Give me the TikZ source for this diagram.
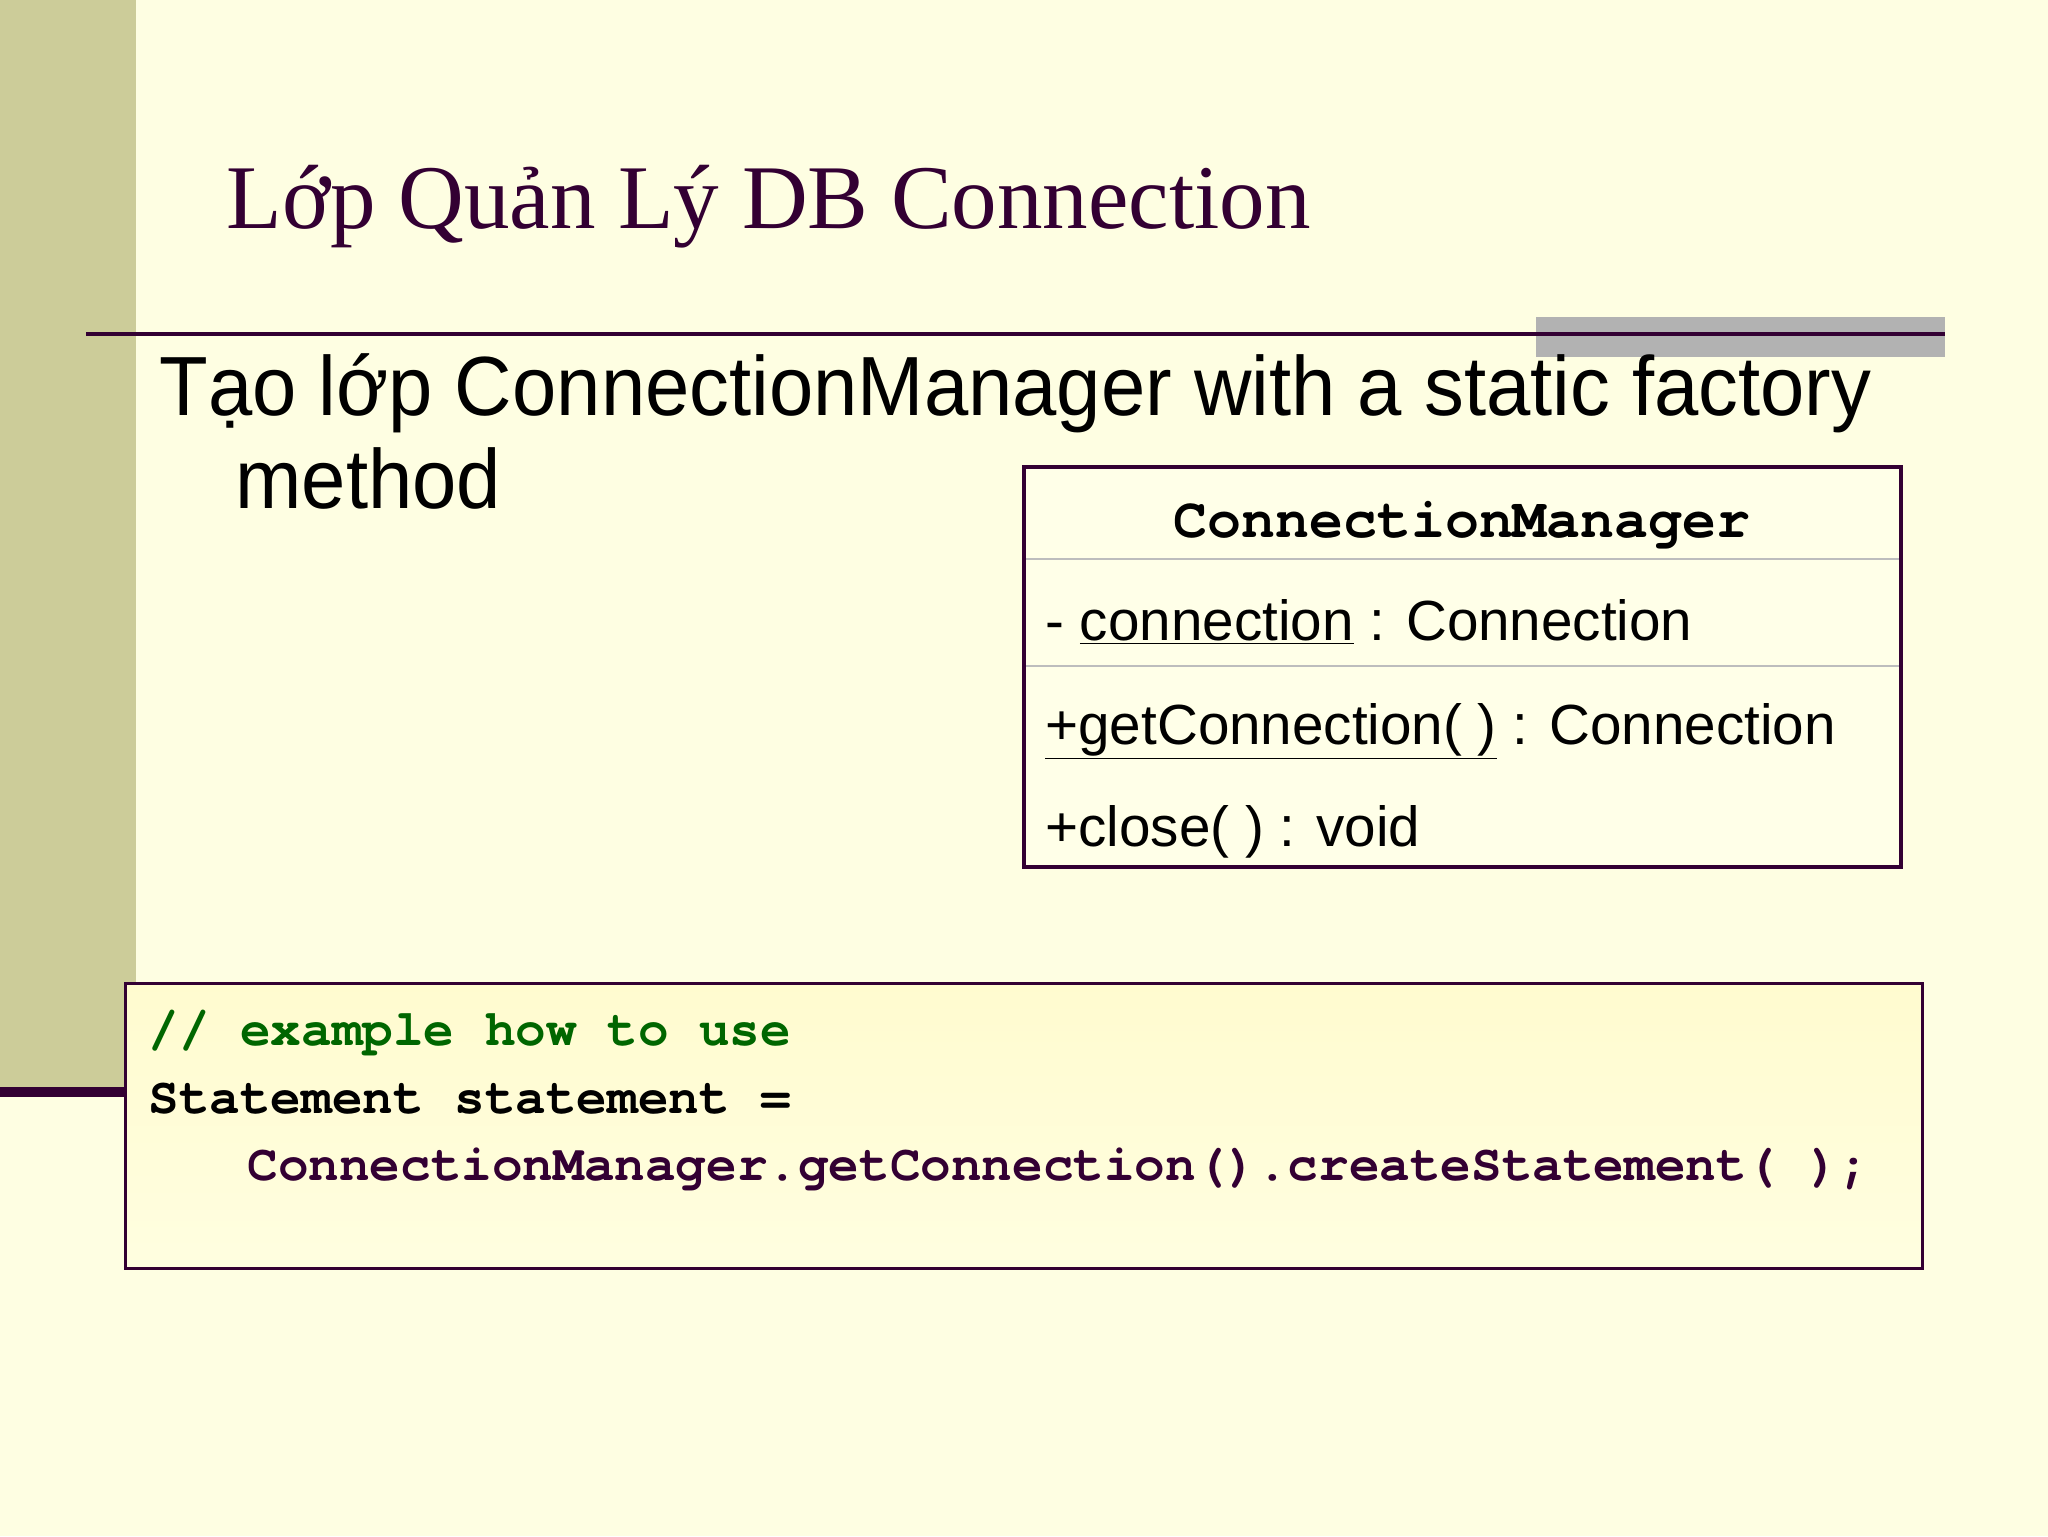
\documentclass[tikz,border=0pt]{standalone}
\usepackage{fontspec}
\setmainfont{Liberation Serif}
\newfontfamily\sansf{Liberation Sans}
\newfontfamily\sansn[FakeStretch=0.948]{Liberation Sans}
\newfontfamily\monof{TeX Gyre Cursor}
\definecolor{bg}{HTML}{FEFEE2}
\definecolor{side}{HTML}{CCCC99}
\definecolor{dpurple}{HTML}{330033}
\definecolor{greyrect}{HTML}{B2B2B2}
\definecolor{sepgrey}{HTML}{BDBDBD}
\definecolor{umlfill}{HTML}{FFFFE8}
\definecolor{codegreen}{HTML}{006600}
\definecolor{codetop}{HTML}{FFFBCF}
\definecolor{codebot}{HTML}{FFFEE0}
\tikzset{
  titletext/.style={anchor=base west, inner sep=0pt, text=dpurple, font=\fontsize{45.5}{50}\selectfont},
  bodytext/.style={anchor=base west, inner sep=0pt, text=black, font=\sansn\fontsize{42}{46}\selectfont},
  umltext/.style={anchor=base west, inner sep=0pt, text=black, font=\sansf\fontsize{28.3}{32}\selectfont},
  umlhead/.style={anchor=base, inner sep=0pt, text=black, font=\monof\bfseries\fontsize{28.3}{32}\selectfont},
  codetext/.style={anchor=base west, inner sep=0pt, font=\monof\bfseries\fontsize{25.5}{30}\selectfont},
  umlbox/.style={draw=dpurple, line width=1.6pt, fill=umlfill},
  codebox/.style={draw=dpurple, line width=1.5pt, top color=codetop, bottom color=codebot},
}
\begin{document}
\begin{tikzpicture}[x=0.5pt,y=-0.5pt]
\useasboundingbox (0,0) rectangle (2048,1536);
\fill[bg] (0,0) rectangle (2048,1536);
% sidebar
\fill[side] (0,0) rectangle (136,1087);
\fill[dpurple] (0,1087) rectangle (125,1097);
% title
\node[titletext] (title) at (226,228) {Lớp Quản Lý DB Connection};
% rule and grey block
\fill[greyrect] (1536,317) rectangle (1945,357);
\coordinate (ruleL) at (86,334);
\coordinate (ruleR) at (1945,334);
\draw[dpurple, line width=2pt] (ruleL) -- (ruleR);
% body text
\node[bodytext] (body1) at (159,415) {Tạo lớp ConnectionManager with a static factory};
\node[bodytext] (body2) at (235,508) {method};
% UML class box
\draw[umlbox] (1024,467) rectangle (1901,867);
\coordinate (s1L) at (1026,559);
\coordinate (s1R) at (1899,559);
\coordinate (s2L) at (1026,666);
\coordinate (s2R) at (1899,666);
\draw[sepgrey, line width=1pt] (s1L) -- (s1R);
\draw[sepgrey, line width=1pt] (s2L) -- (s2R);
\node[umlhead] (cmname) at (1462,537) {ConnectionManager};
\node[umltext] (attr) at (1045,640) {- \underline{connection} : Connection};
\node[umltext] (op1) at (1045,744) {\underline{+getConnection( )} : Connection};
\node[umltext] (op2) at (1045,846) {+close( ) : void};
% code box
\draw[codebox] (125,983) rectangle (1922,1268);
\node[codetext, text=codegreen] (c1) at (148,1045) {// example how to use};
\node[codetext, text=black] (c2) at (148,1113) {Statement statement =};
\node[codetext, text=dpurple] (c3) at (247,1180) {ConnectionManager.getConnection().createStatement( );};
\end{tikzpicture}
\end{document}
